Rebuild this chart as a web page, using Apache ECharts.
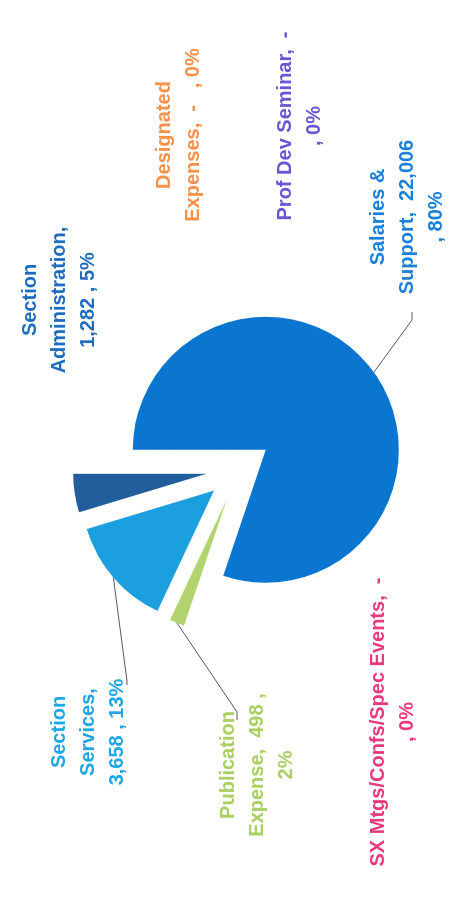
<!DOCTYPE html>
<html>
<head>
<meta charset="utf-8">
<title>Expense breakdown</title>
<script src="https://cdn.jsdelivr.net/npm/echarts@6/dist/echarts.min.js"></script>
<style>
  html, body { margin: 0; padding: 0; background: #fff; }
  #wrap { position: relative; width: 457px; height: 903px; overflow: hidden; box-shadow: inset 0 0 0 1px #e4e4e4; }
  /* the scan is a landscape pie turned on its side: draw it flat, then turn the box */
  #chart { position: absolute; left: 0; top: 0; width: 903px; height: 457px;
           transform-origin: 0 0; transform: translate(0, 903px) rotate(-90deg); }
</style>
</head>
<body>
<div id="wrap"><div id="chart"></div></div>
<script>
var names = ['Salaries & Support', 'SX Mtgs/Confs/Spec Events', 'Publication Expense',
  'Section Services', 'Section Administration', 'Designated Expenses', 'Prof Dev Seminar'];
var amounts = [22006, 0, 498, 3658, 1282, 0, 0];

var sliceColors = ['#0b76cf', '#e8397f', '#b1d46f', '#1c9fde', '#215e9c', '#f79646', '#6b5fd3'];
var labelColors = ['#1a80da', '#e8397f', '#a9cf62', '#1ea6e6', '#1e6cc0', '#f7914a', '#6558d2'];

// how each label wraps ({v} = amount, {p} = percent)
var labelLines = [
  ['Salaries &', 'Support,  {v}', ', {p}'],
  ['SX Mtgs/Confs/Spec Events,  {v}', ', {p}'],
  ['Publication', 'Expense,  {v} ,', '{p}'],
  ['Section', 'Services,', '{v} , {p}'],
  ['Section', 'Administration,', '{v} , {p}'],
  ['Designated', 'Expenses,  {v}   , {p}'],
  ['Prof Dev Seminar,  {v}', ', {p}']
];

// where the labels sit in the flat chart, and the bend of their leader lines
var labelSpots = [
  { x: 686, y: 407, line: [[583, 412], [591, 412]] },
  { x: 181, y: 393 },
  { x: 138, y: 257, line: [[191, 237], [183, 237]] },
  { x: 171, y: 88, line: [[222, 127], [218, 127]] },
  { x: 603, y: 59 },
  { x: 768, y: 179 },
  { x: 777, y: 300 }
];

var R = 133;        // slice radius
var explode = 33;   // every slice is pulled out by this much

var chart = echarts.init(document.getElementById('chart'));

var sliceData = names.map(function (n, i) {
  return {
    name: n,
    value: amounts[i],
    selected: amounts[i] > 0,
    itemStyle: { color: sliceColors[i] }
  };
});

// labels ride on a see-through copy of the pie, as big as the pulled-out slices reach,
// so the leader lines start on the exploded arcs
var labelData = names.map(function (n, i) {
  return {
    name: n,
    value: amounts[i],
    label: { color: labelColors[i] },
    labelLine: { show: !!labelSpots[i].line }
  };
});

var option = {
  backgroundColor: '#fff',
  animation: false,
  series: [{
    type: 'pie',
    center: [434, 239],
    radius: R,
    startAngle: 90,
    clockwise: true,
    selectedMode: 'multiple',
    selectedOffset: explode,
    silent: true,
    label: { show: false },
    labelLine: { show: false },
    data: sliceData
  }, {
    type: 'pie',
    center: [434, 239],
    radius: R + explode,
    startAngle: 90,
    clockwise: true,
    silent: true,
    avoidLabelOverlap: false,
    percentPrecision: 0,
    itemStyle: { color: 'rgba(0,0,0,0)' },
    label: {
      show: true,
      position: 'outside',
      fontFamily: 'Liberation Sans',
      fontSize: 20,
      fontWeight: 'bold',
      lineHeight: 29,
      formatter: function (p) {
        var v = p.value ? p.value.toLocaleString('en-US') : '-';
        var pc = Math.round(p.percent) + '%';
        return labelLines[p.dataIndex].map(function (t) {
          return t.replace('{v}', v).replace('{p}', pc);
        }).join('\n');
      }
    },
    labelLine: {
      length: 10,
      length2: 10,
      lineStyle: { color: '#55566a', width: 1 }
    },
    labelLayout: function (params) {
      var s = labelSpots[params.dataIndex];
      var out = { x: s.x, y: s.y, align: 'center', verticalAlign: 'middle' };
      if (s.line && params.labelLinePoints) {
        var p0 = params.labelLinePoints[0];
        out.labelLinePoints = [[p0[0], p0[1]]].concat(s.line);
      }
      return out;
    },
    data: labelData
  }]
};
chart.setOption(option);
</script>
</body>
</html>
